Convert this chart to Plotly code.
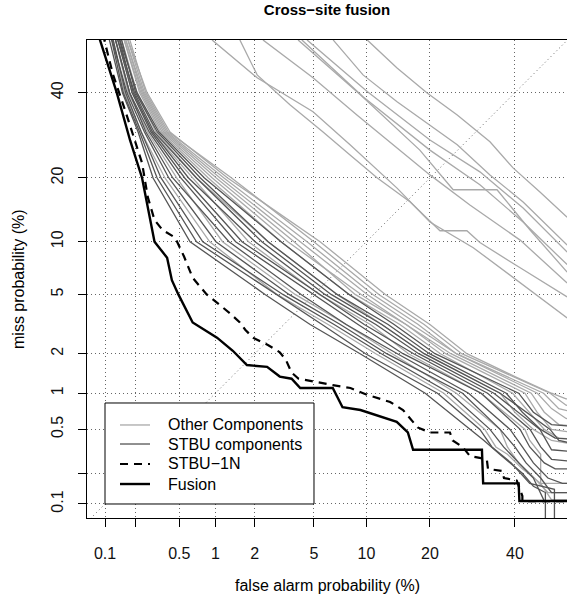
import plotly.graph_objects as go
from statistics import NormalDist

# DET curves, all values in percent (false alarm %, miss %)
tick_values = [0.1, 0.2, 0.5, 1, 2, 5, 10, 20, 40]
tick_labels = ['0.1', '', '0.5', '1', '2', '5', '10', '20', '40']

legend_labels = ['Other Components', 'STBU components', 'STBU\u22121N', 'Fusion']

# weak "other" systems, upper right, then the other systems inside the main band
other_fa = [
    [10.1, 14.25, 19.4, 25.7, 33.5, 39.5, 46.8, 54.3],
    [6.53, 9.6, 14.25, 20, 25.7, 33.5, 42.2, 54.3],
    [4.53, 10.1, 20, 31, 42.2, 54.3],
    [4.2, 9.6, 20, 31, 42.2, 54.3],
    [3.97, 9.26, 18.1, 24.8, 35.3, 44.1, 54.3],
    [2.29, 4.94, 8.9, 14.25, 20, 28.6, 41.4, 54.3],
    [1.55, 2.08, 3.51, 5.69, 8.16, 11.4, 16.4, 22.0, 27.9, 31.0, 41.4, 54.3],
    [0.94, 2.08, 4.94, 8.16, 14.25, 20, 29.4, 38.7, 54.3],
    [0.117, 0.156, 0.226, 0.373, 0.90, 2.87, 6.1, 11.2, 22.8, 32.2, 35, 38, 42, 47, 50, 60],
    [0.123, 0.17, 0.259, 0.474, 1.14, 3.8, 7.76, 13.5, 25.5, 36.1, 38, 41, 44, 49, 60],
    [0.135, 0.185, 0.287, 0.648, 1.8, 5.39, 10.5, 16.1, 31.3, 42.7, 44, 47, 47, 60],
    [0.141, 0.206, 0.308, 0.70, 2.49, 6.89, 12.0, 18.9, 36.1, 40, 45, 50, 60],
    [0.149, 0.218, 0.34, 0.877, 3.06, 8.06, 14.7, 22.1, 39.4, 44, 48, 52, 60],
    [0.149, 0.224, 0.352, 0.945, 3.4, 9.38, 15.7, 23.2, 42.7, 46, 50, 60],
    [0.154, 0.23, 0.364, 1.017, 3.74, 8.7, 15.7, 24.3, 44.4, 48, 52, 60],
    [0.154, 0.236, 0.376, 1.09, 4.1, 10.1, 16.7, 25.5, 46.1, 50, 54, 60],
    [0.161, 0.242, 0.388, 1.17, 4.53, 10.8, 17.8, 25.5, 47.8, 52, 60],
    [0.169, 0.249, 0.40, 1.34, 5.0, 11.6, 18.9, 26.7, 49.6, 54, 60],
    [0.161, 0.256, 0.414, 1.25, 5.46, 12.5, 20.0, 27.9, 40, 50, 54, 60],
]
other_miss = [
    [54.4, 46.7, 40, 34.2, 27.7, 22.0, 17.4, 13.3],
    [54.4, 44.8, 37.6, 31.7, 27.0, 20.6, 15.7, 9.6],
    [54.4, 40.3, 28.1, 21.2, 14.7, 8.8],
    [54.4, 38.9, 25.8, 18.7, 12.6, 7.5],
    [54.4, 39.5, 25.8, 17.8, 17.8, 11.5, 6.8],
    [54.4, 44.0, 34.2, 26.3, 20.6, 15.2, 10.2, 5.87],
    [54.4, 44.8, 36.8, 30.0, 24.7, 20.0, 15.7, 11.4, 11.4, 9.9, 7.2, 4.83],
    [54.4, 44.0, 35.0, 27.0, 18.1, 12.6, 9.3, 6.5, 3.54],
    [56, 40, 30, 20, 10, 5, 3.2, 2, 1, 0.5, 0.35, 0.3, 0.22, 0.16, 0.11, 0.11],
    [56, 40, 30, 20, 10, 5, 3.2, 2, 1, 0.5, 0.35, 0.25, 0.2, 0.13, 0.13],
    [56, 40, 30, 20, 10, 5, 3.2, 2, 1, 0.5, 0.4, 0.3, 0.16, 0.16],
    [56, 40, 30, 20, 10, 5, 3.2, 2, 1, 0.7, 0.5, 0.4, 0.35],
    [56, 40, 30, 20, 10, 5, 3.2, 2, 1, 0.7, 0.5, 0.42, 0.4],
    [56, 40, 30, 20, 10, 5, 3.2, 2, 1, 0.7, 0.5, 0.45],
    [56, 40, 30, 20, 10, 5, 3.2, 2, 1, 0.7, 0.55, 0.52],
    [56, 40, 30, 20, 10, 5, 3.2, 2, 1, 0.75, 0.62, 0.6],
    [56, 40, 30, 20, 10, 5, 3.2, 2, 1, 0.75, 0.65],
    [56, 40, 30, 20, 10, 5, 3.2, 2, 1, 0.8, 0.73],
    [56, 40, 30, 20, 10, 5, 3.2, 2, 1.35, 1.0, 0.9, 0.88],
]

stbu_fa = [
    [0.107, 0.149, 0.211, 0.291, 0.618, 2.37, 4.74, 9.26, 19.1, 28.6, 32, 36, 42, 45, 48.3, 48.3],
    [0.113, 0.152, 0.218, 0.317, 0.70, 2.87, 5.61, 9.9, 21.5, 31.0, 34, 39, 44, 50.8, 50.8],
    [0.117, 0.160, 0.226, 0.344, 0.79, 3.15, 6.62, 11.95, 24.1, 33.5, 37, 41, 45, 48, 60],
    [0.113, 0.165, 0.242, 0.404, 1.01, 3.46, 7.19, 12.7, 26.9, 36.1, 40, 43, 47, 50, 60],
    [0.123, 0.175, 0.25, 0.438, 1.28, 4.15, 7.76, 14.3, 28.3, 38.7, 42, 45, 49, 53, 60],
    [0.123, 0.175, 0.268, 0.515, 1.44, 4.94, 9.03, 15.2, 31.3, 41.4, 44, 48, 51, 60],
    [0.129, 0.185, 0.278, 0.556, 1.61, 5.39, 9.75, 17.0, 32.9, 44.1, 47, 50, 60],
    [0.135, 0.19, 0.287, 0.60, 2.01, 5.84, 11.2, 17.9, 34.5, 46.8, 50, 60],
    [0.129, 0.195, 0.297, 0.70, 2.25, 6.36, 12.0, 18.9, 36.1, 49.6, 52, 60],
    [0.141, 0.20, 0.318, 0.755, 2.49, 6.89, 12.9, 19.9, 37.7, 42, 47, 51, 60],
    [0.135, 0.206, 0.329, 0.815, 3.06, 8.06, 13.8, 21.0, 41.0, 45, 50, 60],
]
stbu_miss = [
    [56, 40, 30, 20, 10, 5, 3.2, 2, 1, 0.5, 0.4, 0.3, 0.2, 0.15, 0.13, 0.05],
    [56, 40, 30, 20, 10, 5, 3.2, 2, 1, 0.5, 0.35, 0.25, 0.16, 0.14, 0.05],
    [56, 40, 30, 20, 10, 5, 3.2, 2, 1, 0.5, 0.35, 0.25, 0.18, 0.107, 0.107],
    [56, 40, 30, 20, 10, 5, 3.2, 2, 1, 0.5, 0.35, 0.25, 0.18, 0.13, 0.13],
    [56, 40, 30, 20, 10, 5, 3.2, 2, 1, 0.5, 0.35, 0.25, 0.18, 0.16, 0.16],
    [56, 40, 30, 20, 10, 5, 3.2, 2, 1, 0.5, 0.35, 0.25, 0.22, 0.22],
    [56, 40, 30, 20, 10, 5, 3.2, 2, 1, 0.5, 0.35, 0.27, 0.25],
    [56, 40, 30, 20, 10, 5, 3.2, 2, 1, 0.5, 0.33, 0.31],
    [56, 40, 30, 20, 10, 5, 3.2, 2, 1, 0.5, 0.4, 0.35],
    [56, 40, 30, 20, 10, 5, 3.2, 2, 1, 0.7, 0.5, 0.42, 0.40],
    [56, 40, 30, 20, 10, 5, 3.2, 2, 1, 0.7, 0.55, 0.52],
]

stbu1n_fa = [0.095, 0.12, 0.16, 0.23, 0.26, 0.30, 0.355, 0.46, 0.55, 0.65, 0.85, 1.09, 1.3,
             1.55, 1.7, 1.94, 2.5, 3.0, 3.3, 3.6, 4.0, 6.5, 8.2, 10.1, 13.2, 15.2, 17.7,
             20, 24.1, 24.7, 26.9, 28.6, 32.7, 33, 36.6, 37.1, 40.5, 42, 42, 60]
stbu1n_miss = [56, 45, 35, 23, 16.5, 12.9, 11.5, 10.5, 8.3, 6.3, 5.0, 4.3, 3.8,
               3.3, 2.95, 2.6, 2.3, 2.05, 1.8, 1.45, 1.3, 1.16, 1.1, 0.97, 0.85, 0.73, 0.52,
               0.47, 0.47, 0.40, 0.35, 0.29, 0.27, 0.22, 0.21, 0.18, 0.17, 0.12, 0.107, 0.107]

fusion_fa = [0.085, 0.105, 0.131, 0.177, 0.23, 0.30, 0.39, 0.43, 0.49, 0.65, 1.03, 1.37, 1.75,
             2.45, 3.0, 3.6, 4.1, 6.5, 7.4, 9.3, 12.2, 14.2, 16.0, 16.9, 31.5, 31.8, 41.0, 41.2, 60]
fusion_miss = [56, 48, 40, 28, 20, 10, 8.2, 6.1, 5.0, 3.3, 2.6, 2.1, 1.65,
               1.6, 1.35, 1.3, 1.1, 1.1, 0.77, 0.73, 0.63, 0.58, 0.47, 0.33, 0.33, 0.16, 0.16, 0.107, 0.107]

diagonal = [0.01, 60]

FONT = 'Liberation Sans, Arial, Helvetica, sans-serif'
LIGHT = '#a9a9a9'
DARK = '#555555'
DOTS = '1px,3px'

# line style per legend entry
styles = [
    dict(color=LIGHT, width=1.3),
    dict(color=DARK, width=1.3),
    dict(color='black', width=2.2, dash='8px,6px'),
    dict(color='black', width=2.4),
]

norm = NormalDist()


def probit(values):
    return [norm.inv_cdf(v / 100.0) for v in values]


fig = go.Figure()

fig.add_trace(go.Scatter(
    x=probit(diagonal), y=probit(diagonal), mode='lines',
    line=dict(color='#666666', width=1, dash=DOTS), hoverinfo='skip'
))

for fa, miss in zip(other_fa, other_miss):
    fig.add_trace(go.Scatter(x=probit(fa), y=probit(miss), mode='lines',
                             name=legend_labels[0], line=styles[0]))

for fa, miss in zip(stbu_fa, stbu_miss):
    fig.add_trace(go.Scatter(x=probit(fa), y=probit(miss), mode='lines',
                             name=legend_labels[1], line=styles[1]))

fig.add_trace(go.Scatter(x=probit(stbu1n_fa), y=probit(stbu1n_miss), mode='lines',
                         name=legend_labels[2], line=styles[2]))

fig.add_trace(go.Scatter(x=probit(fusion_fa), y=probit(fusion_miss), mode='lines',
                         name=legend_labels[3], line=styles[3]))

axis_common = dict(
    tickvals=probit(tick_values), ticktext=tick_labels,
    ticks='outside', ticklen=8, tickcolor='black', tickwidth=1,
    showline=True, linecolor='black', linewidth=1.2,
    showgrid=True, gridcolor='#666666', griddash=DOTS, gridwidth=1,
    zeroline=False, tickfont=dict(size=16, color='#111111'),
)

fig.update_xaxes(range=[-3.215, 0.107], mirror=True, ticklabelstandoff=13, **axis_common)
fig.update_yaxes(range=[-3.187, 0.110], mirror=False, tickangle=-90, ticklabelstandoff=9, **axis_common)

# R style legend box, drawn in paper coordinates so the rows sit tight like the original
shapes = [dict(type='rect', xref='paper', yref='paper', x0=0.0375, x1=0.4729, y0=0.0293, y1=0.2406,
               fillcolor='white', line=dict(color='black', width=1), layer='above')]
annotations = []
row_y = [0.1946, 0.1548, 0.1130, 0.0711]
for label, style, y in zip(legend_labels, styles, row_y):
    shapes.append(dict(type='line', xref='paper', yref='paper', x0=0.06875, x1=0.13125,
                       y0=y, y1=y, line=style, layer='above'))
    annotations.append(dict(text=label, x=0.1646, y=y, xref='paper', yref='paper',
                            xanchor='left', yanchor='middle', showarrow=False,
                            font=dict(size=16)))

annotations += [
    dict(text='false alarm probability (%)', x=0.5, y=(518 - 585) / 478,
         xref='paper', yref='paper', showarrow=False, yanchor='middle', font=dict(size=16)),
    dict(text='miss probability (%)', x=(18 - 87) / 480, y=0.5,
         xref='paper', yref='paper', showarrow=False, textangle=-90,
         xanchor='center', font=dict(size=16)),
]

fig.update_layout(
    width=567, height=602,
    margin=dict(l=87, r=0, t=40, b=84),
    plot_bgcolor='white', paper_bgcolor='white',
    font=dict(family=FONT, size=16, color='black'),
    showlegend=False,
    title=dict(text='<b>Cross\u2212site fusion</b>', x=0.5, xref='paper', xanchor='center',
               y=1 - 10 / 602, yanchor='middle', font=dict(size=15)),
    shapes=shapes,
    annotations=annotations,
)

# the page body has a default 8px margin; drop it so the figure sits at the window corner
fig.write_html('out.html', config={'displayModeBar': False},
               post_script="document.body.style.margin='0px';")
